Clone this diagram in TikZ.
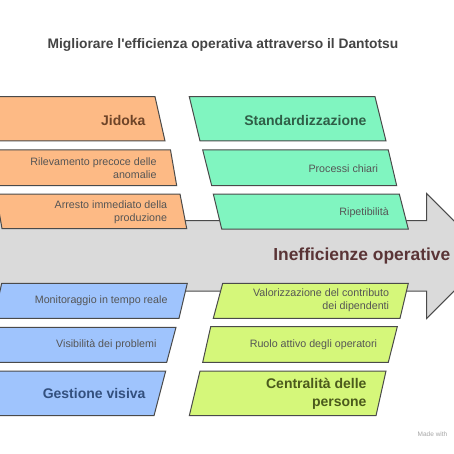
\documentclass[tikz,border=0pt]{standalone}
\usepackage{fontspec}
\setmainfont{Liberation Sans}
\newfontfamily\napfont{Liberation Sans}
\definecolor{edge}{HTML}{4A4A4A}
\definecolor{arrowgray}{HTML}{DADADA}
\definecolor{orangefill}{HTML}{FDBA85}
\definecolor{greenfill}{HTML}{80F5C0}
\definecolor{bluefill}{HTML}{9FC4FD}
\definecolor{limefill}{HTML}{D5F77A}
\definecolor{orangetxt}{HTML}{6E4428}
\definecolor{greentxt}{HTML}{2F5E47}
\definecolor{bluetxt}{HTML}{33507E}
\definecolor{limetxt}{HTML}{4B5A1C}
\definecolor{smalltxt}{HTML}{555555}
\definecolor{titletxt}{HTML}{444444}
\definecolor{maintxt}{HTML}{5A3436}
\tikzset{
  boxline/.style={draw=edge, line width=1pt, line join=miter},
  headtxt/.style={anchor=east, align=right, inner sep=0pt, font=\napfont\fontsize{14}{17.7}\selectfont\bfseries},
  itemtxt/.style={anchor=east, align=right, inner sep=0pt, text=smalltxt, font=\napfont\fontsize{10.7}{13.3}\selectfont},
}
\begin{document}
\begin{tikzpicture}[x=1pt,y=-1pt]
\useasboundingbox (0,0) rectangle (454,454);
\clip (0,0) rectangle (454,454);
\fill[white] (0,0) rectangle (454,454);
% title
\node[inner sep=0pt, text=titletxt, font=\napfont\fontsize{13.8}{15}\selectfont\bfseries] (title) at (223,45) {Migliorare l'efficienza operativa attraverso il Dantotsu};
% big arrow
\path[boxline, fill=arrowgray] (-5,220.5) -- (426.7,220.5) -- (426.7,193.5) -- (489,256) -- (426.7,318.5) -- (426.7,291) -- (-5,291) -- cycle;
\node[inner sep=0pt, text=maintxt, font=\napfont\fontsize{17.4}{20}\selectfont\bfseries, anchor=east] (main) at (450.5,256) {Inefficienze operative};
% orange boxes
\path[boxline, fill=orangefill] (-12,96.7) -- (155,96.7) -- (165,141) -- (-2,141) -- cycle;
\path[boxline, fill=orangefill] (-8,150) -- (170.5,150) -- (176.7,185.7) -- (-2,185.7) -- cycle;
\path[boxline, fill=orangefill] (-4,194) -- (180,194) -- (186.7,228.5) -- (2,228.5) -- cycle;
\node[headtxt, text=orangetxt] (jidoka) at (145.7,120) {Jidoka};
\node[itemtxt] (ril) at (156.7,168.3) {Rilevamento precoce delle\\anomalie};
\node[itemtxt] (arr) at (167.3,212.2) {Arresto immediato della\\produzione};
% green boxes
\path[boxline, fill=greenfill] (189.3,96.7) -- (375,96.7) -- (386,141) -- (200,141) -- cycle;
\path[boxline, fill=greenfill] (202.7,150) -- (388.3,150) -- (396.7,185.7) -- (211.7,185.7) -- cycle;
\path[boxline, fill=greenfill] (213.3,194) -- (399.3,194) -- (408.3,229) -- (221.7,229) -- cycle;
\node[headtxt, text=greentxt] (std) at (366.7,120) {Standardizzazione};
\node[itemtxt] (proc) at (378.3,168.3) {Processi chiari};
\node[itemtxt] (rip) at (389,212.7) {Ripetibilità};
% blue boxes
\path[boxline, fill=bluefill] (1.7,283.3) -- (187.3,283.3) -- (179,318.3) -- (-6,318.3) -- cycle;
\path[boxline, fill=bluefill] (-4,327.3) -- (176,327.3) -- (166.7,362.3) -- (-12,362.3) -- cycle;
\path[boxline, fill=bluefill] (-6,371) -- (165.7,371) -- (154,415.7) -- (-16,415.7) -- cycle;
\node[itemtxt] (mon) at (167.7,300.7) {Monitoraggio in tempo reale};
\node[itemtxt] (vis) at (156.7,344.3) {Visibilità dei problemi};
\node[headtxt, text=bluetxt] (gest) at (145.7,393.3) {Gestione visiva};
% lime boxes
\path[boxline, fill=limefill] (222.7,283.3) -- (408.3,283.3) -- (400,318.3) -- (213.3,318.3) -- cycle;
\path[boxline, fill=limefill] (210.7,326.7) -- (397.3,326.7) -- (388.3,362.3) -- (202.7,362.3) -- cycle;
\path[boxline, fill=limefill] (200,371) -- (386,371) -- (376,415.7) -- (189.3,415.7) -- cycle;
\node[itemtxt] (val) at (389.3,300.4) {Valorizzazione del contributo\\dei dipendenti};
\node[itemtxt] (ruolo) at (377.3,345) {Ruolo attivo degli operatori};
\node[headtxt, text=limetxt] (cent) at (366.7,393.8) {Centralità delle\\persone};
% watermark
\node[inner sep=0pt, anchor=west, text=black!35, font=\napfont\fontsize{6.5}{8}\selectfont] (made) at (417.5,434) {Made with};
\end{tikzpicture}
\end{document}
